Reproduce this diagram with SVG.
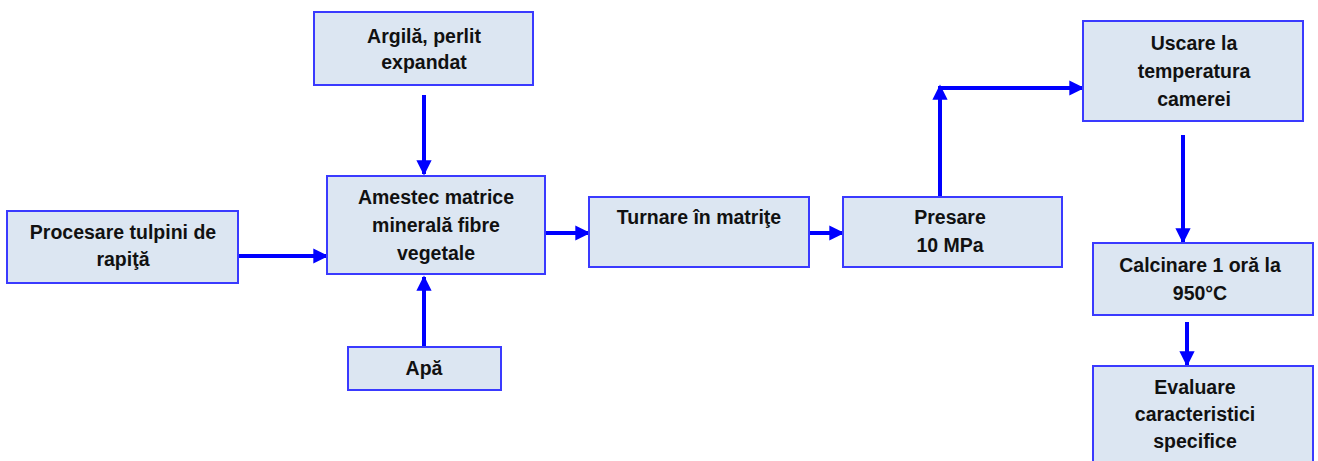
<svg xmlns="http://www.w3.org/2000/svg" width="1318" height="461" viewBox="0 0 1318 461">
  <style>
    .box { fill: #dce6f2; stroke: #3a3aff; stroke-width: 2; }
    .lbl { font-family: "Liberation Sans", Arial, sans-serif; font-weight: bold; font-size: 19.5px; fill: #111; text-anchor: middle; }
    .conn { stroke: #0000ff; stroke-width: 4; fill: none; }
  </style>
  <defs>
    <marker id="arrow" viewBox="0 0 10 10" refX="9" refY="5" markerWidth="3.8" markerHeight="3.8" orient="auto" markerUnits="strokeWidth">
      <path d="M0,0 L10,5 L0,10 Z" fill="#0000ff"/>
    </marker>
  </defs>
  <rect width="1318" height="461" fill="#ffffff"/>

  <g id="connectors">
    <line class="conn" x1="424" y1="95" x2="424" y2="174" marker-end="url(#arrow)"/>
    <line class="conn" x1="238" y1="256" x2="327" y2="256" marker-end="url(#arrow)"/>
    <line class="conn" x1="424" y1="347" x2="424" y2="277" marker-end="url(#arrow)"/>
    <line class="conn" x1="545" y1="233" x2="589" y2="233" marker-end="url(#arrow)"/>
    <line class="conn" x1="809" y1="233" x2="843" y2="233" marker-end="url(#arrow)"/>
    <line class="conn" x1="940" y1="197" x2="940" y2="86" marker-end="url(#arrow)"/>
    <line class="conn" x1="938" y1="88" x2="1083" y2="88" marker-end="url(#arrow)"/>
    <line class="conn" x1="1183" y1="135" x2="1183" y2="242" marker-end="url(#arrow)"/>
    <line class="conn" x1="1187" y1="322" x2="1187" y2="365" marker-end="url(#arrow)"/>
  </g>

  <g id="node-argila">
    <rect class="box" x="314" y="12" width="219" height="73"/>
    <text class="lbl" x="424" y="43">Argilă, perlit</text>
    <text class="lbl" x="424" y="69">expandat</text>
  </g>
  <g id="node-procesare">
    <rect class="box" x="7" y="211" width="231" height="72"/>
    <text class="lbl" x="123" y="239">Procesare tulpini de</text>
    <text class="lbl" x="123" y="266">rapiţă</text>
  </g>
  <g id="node-amestec">
    <rect class="box" x="327" y="176" width="218" height="98"/>
    <text class="lbl" x="436" y="204">Amestec matrice</text>
    <text class="lbl" x="436" y="232">minerală fibre</text>
    <text class="lbl" x="436" y="260">vegetale</text>
  </g>
  <g id="node-apa">
    <rect class="box" x="348" y="347" width="153" height="43"/>
    <text class="lbl" x="424" y="375">Apă</text>
  </g>
  <g id="node-turnare">
    <rect class="box" x="589" y="197" width="220" height="70"/>
    <text class="lbl" x="699" y="224">Turnare în matriţe</text>
  </g>
  <g id="node-presare">
    <rect class="box" x="843" y="197" width="219" height="70"/>
    <text class="lbl" x="950" y="224">Presare</text>
    <text class="lbl" x="950" y="252">10 MPa</text>
  </g>
  <g id="node-uscare">
    <rect class="box" x="1083" y="21" width="220" height="100"/>
    <text class="lbl" x="1194" y="50">Uscare la</text>
    <text class="lbl" x="1194" y="78">temperatura</text>
    <text class="lbl" x="1194" y="106">camerei</text>
  </g>
  <g id="node-calcinare">
    <rect class="box" x="1093" y="243" width="220" height="72"/>
    <text class="lbl" x="1200" y="272">Calcinare 1 oră la</text>
    <text class="lbl" x="1200" y="300">950°C</text>
  </g>
  <g id="node-evaluare">
    <rect class="box" x="1093" y="366" width="220" height="100"/>
    <text class="lbl" x="1195" y="394">Evaluare</text>
    <text class="lbl" x="1195" y="421">caracteristici</text>
    <text class="lbl" x="1195" y="448">specifice</text>
  </g>
</svg>
